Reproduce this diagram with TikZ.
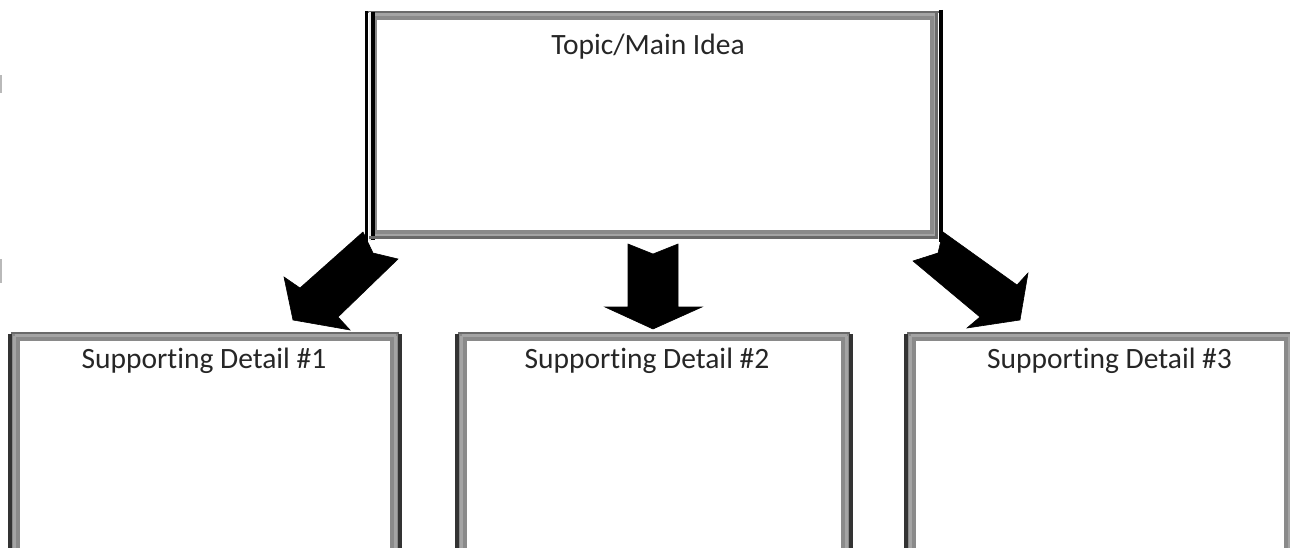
\documentclass[tikz,border=0pt]{standalone}
\usepackage{fontspec}
\setmainfont{Carlito}[Ligatures=NoCommon]
\usetikzlibrary{calc}
\definecolor{bordgray}{HTML}{8A8A8A}
\definecolor{bordlight}{HTML}{A4A4A4}
\definecolor{borddark}{HTML}{6A6A6A}
\definecolor{edgedark}{HTML}{333333}
\definecolor{txt}{HTML}{262626}
\begin{document}
\begin{tikzpicture}[x=1pt,y=-1pt,
  frame/.style={draw=bordgray, line width=8pt, fill=white, inner sep=0pt, rectangle},
  lbl/.style={anchor=base, text=txt, font=\fontsize{29.5}{31}\selectfont, inner sep=0pt},
  blockarrow/.style={fill=black, draw=black, line width=0.6pt, line join=miter}]
\useasboundingbox (0,0) rectangle (1290,548);
\fill[white] (0,0) rectangle (1290,548);

% small fragments at the left edge
\fill[gray!55] (0,75) rectangle (2,93);
\fill[gray!55] (0,259) rectangle (2,283);

% top box
\node[frame, minimum width=561pt, minimum height=218pt] (top) at (653.5,125) {};
\draw[borddark, line width=2.5pt] ($(top.north west)+(-1,0)$) -- ($(top.north east)+(1,0)$);
\draw[bordlight, line width=3pt] ($(top.north west)+(2.5,2.5)$) rectangle ($(top.south east)+(-2.5,-2.5)$);
\draw[black, line width=3.5pt] ($(top.north west)+(-2.3,-1)$) -- ($(top.south west)+(-2.3,4)$);
\draw[white!85!gray, line width=1.5pt] ($(top.north west)+(1,0)$) -- ($(top.south west)+(1,3)$);
\draw[black, line width=3.5pt] ($(top.north west)+(4,0)$) -- ($(top.south west)+(4,2)$);
\draw[black, line width=3.5pt] ($(top.north east)+(3,-2)$) -- ($(top.south east)+(3,4)$);
\draw[borddark, line width=3pt] ($(top.north east)+(-2,0)$) -- ($(top.south east)+(-2,1)$);
\draw[borddark, line width=3pt] ($(top.south west)+(0,-1)$) -- ($(top.south east)+(0,-1)$);
\node[lbl] (toptext) at (648,55) {Topic/Main Idea};

% bottom boxes
\node[frame, minimum width=378pt, minimum height=263pt] (b1) at (205,468.5) {};
\node[frame, minimum width=382pt, minimum height=263pt] (b2) at (654,468.5) {};
\node[frame, minimum width=376pt, minimum height=263pt] (b3) at (1100,468.5) {};
\foreach \b in {b1,b2,b3}{
  \draw[borddark, line width=2.5pt] ($(\b.north west)+(-1,0)$) -- ($(\b.north east)+(1,0)$);
  \draw[bordlight, line width=3pt] ($(\b.north west)+(2.5,2.5)$) -- ($(\b.north east)+(-2.5,2.5)$);
  \draw[bordlight, line width=3pt] ($(\b.north west)+(2.5,2.5)$) -- ($(\b.south west)+(2.5,0)$);
  \draw[bordlight, line width=3pt] ($(\b.north east)+(-2.5,2.5)$) -- ($(\b.south east)+(-2.5,0)$);
  \draw[edgedark, line width=4pt] ($(\b.north west)+(-2,1)$) -- ($(\b.south west)+(-2,4)$);
}
\draw[edgedark, line width=4pt] ($(b1.north east)+(2,1)$) -- ($(b1.south east)+(2,4)$);
\draw[edgedark, line width=4pt] ($(b2.north east)+(2,1)$) -- ($(b2.south east)+(2,4)$);

\node[lbl] (t1) at (204,368) {Supporting Detail \#1};
\node[lbl] (t2) at (647,368) {Supporting Detail \#2};
\node[lbl] (t3) at (1109.5,368) {Supporting Detail \#3};

% block arrows
\filldraw[blockarrow] (363,232) -- (300,288) -- (284,277) -- (293,320) -- (350,330)
  -- (338,317) -- (398,259) -- (373,253) -- cycle;
\filldraw[blockarrow] (628,244) -- (653,254) -- (678,244) -- (678,307) -- (702,307)
  -- (653,329) -- (605,307) -- (628,307) -- cycle;
\filldraw[blockarrow] (943,232) -- (1017,285) -- (1028,273) -- (1020,320) -- (967,328)
  -- (980,317) -- (913,261) -- (938,253) -- cycle;
\end{tikzpicture}
\end{document}
